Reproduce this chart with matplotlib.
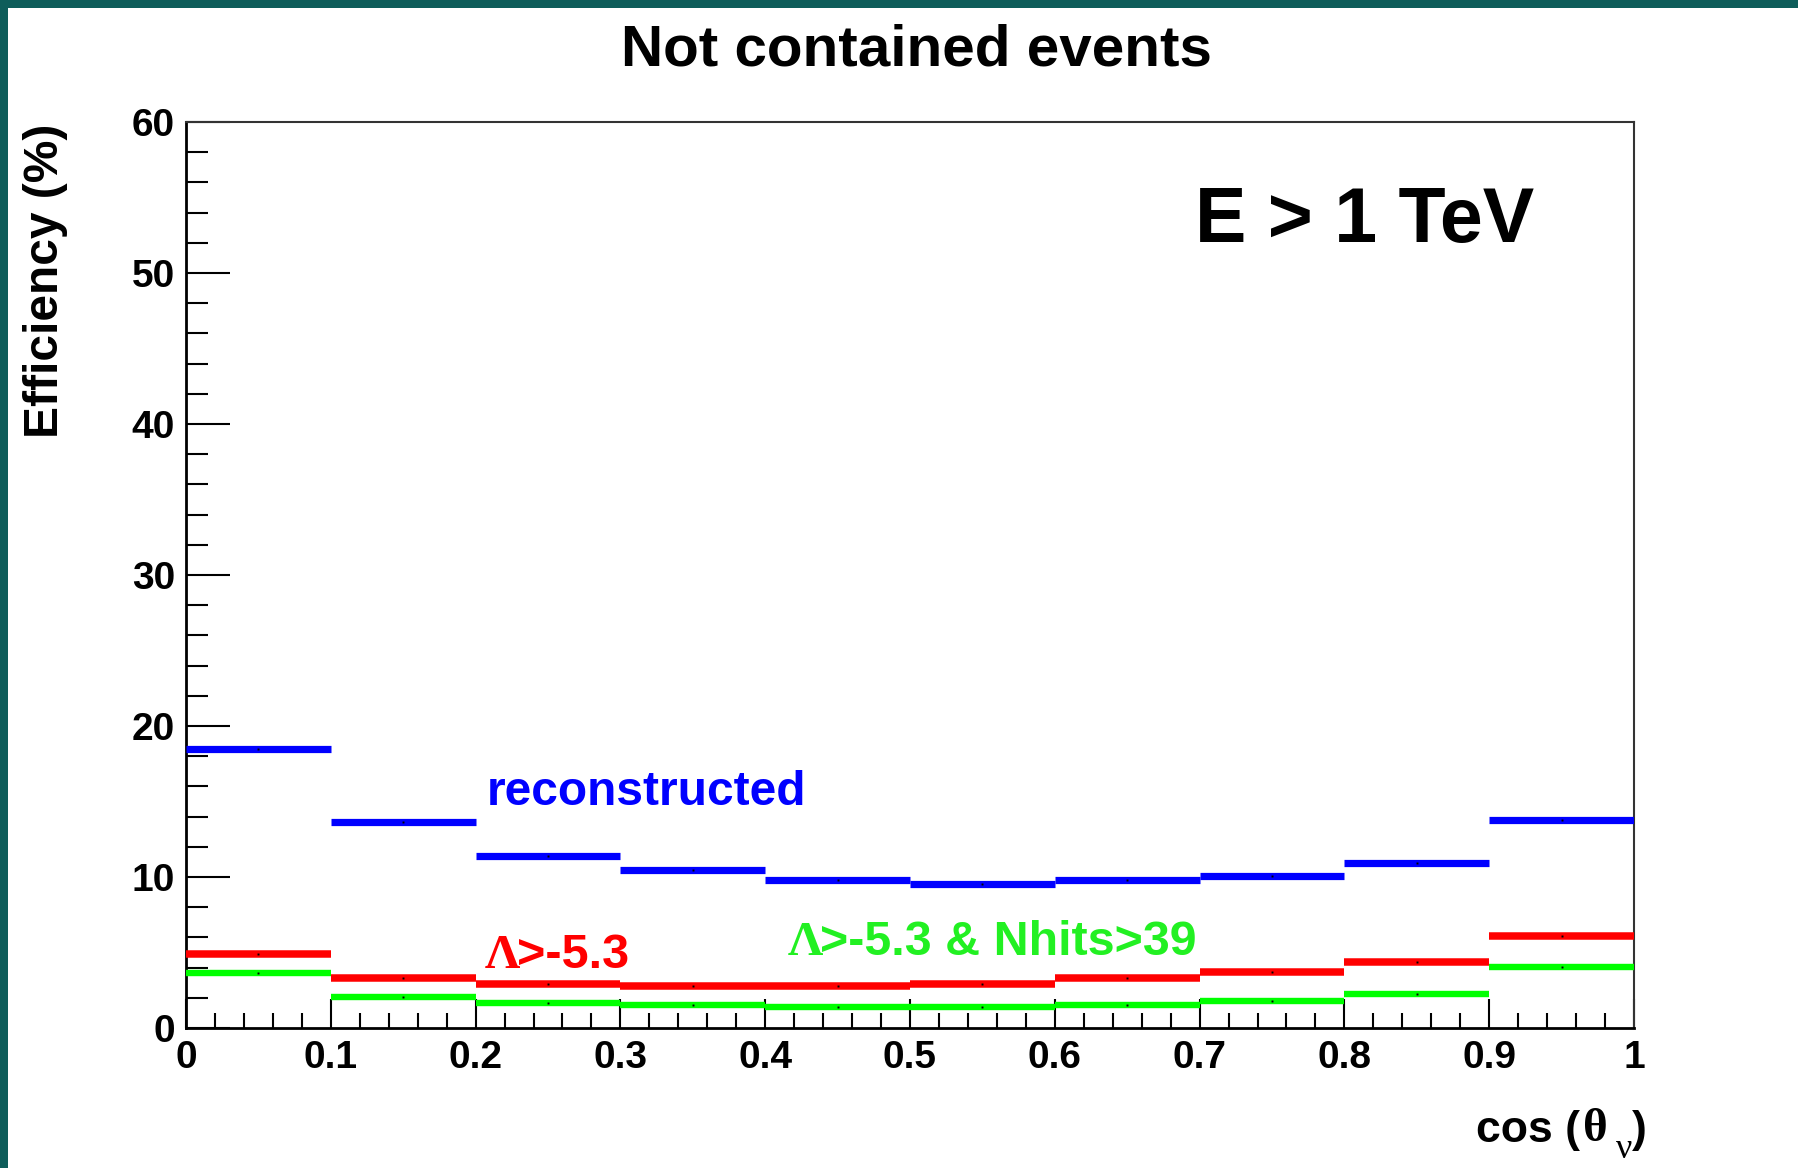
import matplotlib
matplotlib.use("Agg")
import matplotlib.pyplot as plt
import numpy as np
from matplotlib.ticker import MultipleLocator, FixedLocator, FixedFormatter
from matplotlib.patches import Rectangle

# Binning in cos(theta_nu) and efficiencies (%) per bin
bin_edges = [0.0, 0.1, 0.2, 0.3, 0.4, 0.5, 0.6, 0.7, 0.8, 0.9, 1.0]
reconstructed = [18.45, 13.66, 11.40, 10.49, 9.83, 9.55, 9.83, 10.08, 10.90, 13.80]
lambda_cut = [4.93, 3.30, 2.93, 2.80, 2.80, 2.93, 3.32, 3.73, 4.40, 6.10]
lambda_nhits_cut = [3.65, 2.08, 1.68, 1.54, 1.42, 1.42, 1.55, 1.80, 2.22, 4.06]

x_ticks = [0.0, 0.1, 0.2, 0.3, 0.4, 0.5, 0.6, 0.7, 0.8, 0.9, 1.0]
x_tick_labels = ["0", "0.1", "0.2", "0.3", "0.4", "0.5", "0.6", "0.7", "0.8", "0.9", "1"]
y_ticks = [0, 10, 20, 30, 40, 50, 60]
y_tick_labels = ["0", "10", "20", "30", "40", "50", "60"]

SANS = "Liberation Sans"
SERIF = "Liberation Serif"
BLUE = "#0000ff"
RED = "#ff0000"
GREEN = "#00ff00"
GREEN_TXT = "#22f022"

W, H = 1798, 1168
fig = plt.figure(figsize=(W / 100, H / 100), dpi=100)
fig.patch.set_facecolor("white")


def fx(px):
    return px / W


def fy(py):
    return 1 - py / H


def follow(prev, text, dx=0.0, dy=0.0, **kw):
    """Place text right after a previous text artist, bottoms aligned."""
    return ax.annotate(text, xy=(1, 0), xycoords=prev, xytext=(dx, dy),
                       textcoords="offset points", ha="left", va="bottom",
                       annotation_clip=False, **kw)


# slide frame along the top and left edges
frame = "#0e5d5a"
fig.patches.append(Rectangle((0, fy(8)), 1, 8 / H, transform=fig.transFigure,
                             facecolor=frame, edgecolor="none", zorder=0))
fig.patches.append(Rectangle((0, 0), fx(8), 1, transform=fig.transFigure,
                             facecolor=frame, edgecolor="none", zorder=0))

ax = fig.add_axes([fx(186), fy(1028), fx(1634 - 186), (1028 - 122) / H])
ax.set_xlim(0, 1)
ax.set_ylim(0, 60)

edges = np.array(bin_edges)
centers = 0.5 * (edges[:-1] + edges[1:])
for vals, color, lw in [(reconstructed, BLUE, 5.2),
                        (lambda_cut, RED, 5.4),
                        (lambda_nhits_cut, GREEN, 4.6)]:
    ax.hlines(vals, edges[:-1], edges[1:], colors=color, linewidth=lw,
              capstyle="butt", zorder=3)
    ax.plot(centers, vals, ls="none", marker="s", ms=1.4, color="black",
            mec="none", zorder=4)

# axes frame and ticks
for side in ["left", "bottom"]:
    ax.spines[side].set_linewidth(2.0)
    ax.spines[side].set_color("black")
for side in ["top", "right"]:
    ax.spines[side].set_linewidth(1.5)
    ax.spines[side].set_color("#333333")

ax.xaxis.set_major_locator(FixedLocator(x_ticks))
ax.xaxis.set_major_formatter(FixedFormatter(x_tick_labels))
ax.xaxis.set_minor_locator(MultipleLocator(0.02))
ax.yaxis.set_major_locator(FixedLocator(y_ticks))
ax.yaxis.set_major_formatter(FixedFormatter(y_tick_labels))
ax.yaxis.set_minor_locator(MultipleLocator(2))

ax.tick_params(axis="both", which="both", direction="in", top=False, right=False,
               color="black", width=1.5)
ax.tick_params(axis="x", which="major", length=21, pad=9)
ax.tick_params(axis="x", which="minor", length=11)
ax.tick_params(axis="y", which="major", length=32, pad=8)
ax.tick_params(axis="y", which="minor", length=16)
for lab in ax.get_xticklabels() + ax.get_yticklabels():
    lab.set_fontfamily(SANS)
    lab.set_fontweight("bold")
    lab.set_fontsize(28)

# titles and labels
fig.text(fx(916), fy(66), "Not contained events", ha="center", va="baseline",
         fontsize=42, fontweight="bold", family=SANS)
fig.text(fx(1195), fy(242), "E > 1 TeV", ha="left", va="baseline",
         fontsize=55.5, fontweight="bold", family=SANS)
fig.text(fx(68), fy(124), "Efficiency (%)", rotation=90, ha="right", va="top",
         fontsize=34.5, fontweight="bold", family=SANS)

# x-axis title: cos (theta_nu)
t = fig.text(fx(1476), fy(1142), "cos (", ha="left", va="baseline",
             fontsize=32, fontweight="bold", family=SANS)
t = follow(t, "θ", dx=2, fontsize=34, fontweight="bold", family=SERIF)
t = follow(t, "ν", dx=6, dy=-11, fontsize=26, family=SERIF)
follow(t, ")", dx=0, dy=11, fontsize=32, fontweight="bold", family=SANS)

# curve annotations
fig.text(fx(487), fy(805), "reconstructed", ha="left", va="baseline",
         fontsize=34.5, fontweight="bold", family=SANS, color=BLUE)
t = fig.text(fx(485), fy(968), "Λ", ha="left", va="baseline",
             fontsize=35.5, fontweight="bold", family=SERIF, color=RED)
follow(t, ">-5.3", dx=-2, fontsize=35, fontweight="bold", family=SANS, color=RED)
t = fig.text(fx(788), fy(955), "Λ", ha="left", va="baseline",
             fontsize=35.5, fontweight="bold", family=SERIF, color=GREEN_TXT)
follow(t, ">-5.3 & Nhits>39", dx=-2, fontsize=34.8, fontweight="bold",
       family=SANS, color=GREEN_TXT)

fig.savefig("out.png", dpi=100, facecolor="white")
